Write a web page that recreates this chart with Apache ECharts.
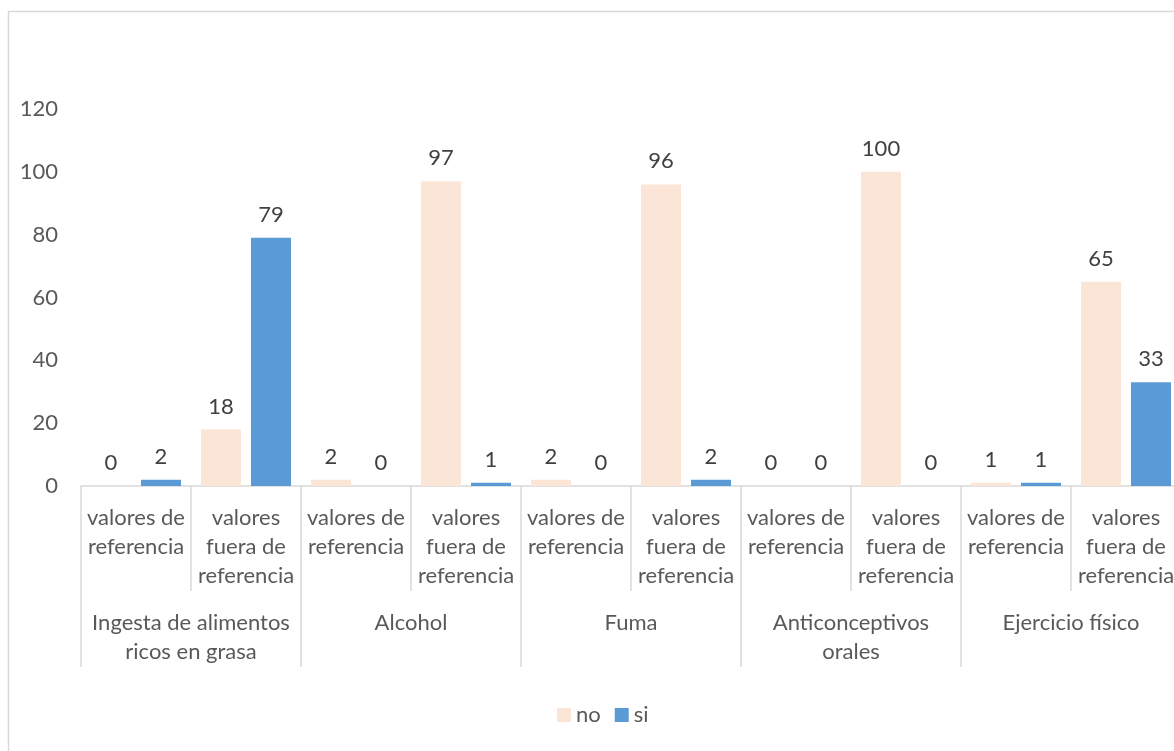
<!DOCTYPE html>
<html>
<head>
<meta charset="utf-8">
<script src="https://cdn.jsdelivr.net/npm/echarts@6/dist/echarts.min.js"></script>
<style>
  html, body { margin: 0; padding: 0; background: #ffffff; overflow: hidden; }
  /* the drawing is a bit wider than the window; its right edge is cut off */
  #chart { width: 1181px; height: 751px; }
</style>
</head>
<body>
<div id="chart"></div>
<script>
// Group (outer) categories of the two-level axis
const groupLabels = [
  'Ingesta de alimentos\nricos en grasa',
  'Alcohol',
  'Fuma',
  'Anticonceptivos\norales',
  'Ejercicio físico'
];
// Sub-categories, two per group
const subLabels = [
  'valores de\nreferencia', 'valores\nfuera de\nreferencia',
  'valores de\nreferencia', 'valores\nfuera de\nreferencia',
  'valores de\nreferencia', 'valores\nfuera de\nreferencia',
  'valores de\nreferencia', 'valores\nfuera de\nreferencia',
  'valores de\nreferencia', 'valores\nfuera de\nreferencia'
];
const seriesNames = ['no', 'si'];
const noValues = [0, 18, 2, 97, 2, 96, 0, 100, 1, 65];
const siValues = [2, 79, 0, 1, 0, 2, 0, 0, 1, 33];
const yTicks = { min: 0, max: 120, interval: 20 };

const FONT = 'Lato, "Liberation Sans", sans-serif';
const FS = 22;
const TEXT = '#595959';
const LINE = '#D9D9D9';

const chart = echarts.init(document.getElementById('chart'), null, { renderer: 'canvas' });

const labelStyle = {
  show: true,
  position: 'top',
  distance: 12,
  fontSize: FS,
  fontFamily: FONT,
  color: '#404040'
};

chart.setOption({
  backgroundColor: '#ffffff',
  animation: false,
  textStyle: { fontFamily: FONT },
  graphic: [{
    type: 'rect',
    shape: { x: 8.5, y: 11.5, width: 1300, height: 900 },
    style: { fill: 'none', stroke: LINE, lineWidth: 1.5 },
    silent: true
  }],
  legend: {
    data: seriesNames,
    bottom: 20,
    left: 552,
    icon: 'rect',
    itemWidth: 14,
    itemHeight: 14,
    itemGap: 14,
    textStyle: { fontSize: FS, color: TEXT, fontFamily: FONT }
  },
  grid: { left: 81, right: 0, top: 109, bottom: 265, containLabel: false },
  xAxis: [{
    type: 'category',
    data: subLabels,
    position: 'bottom',
    axisLine: { show: true, lineStyle: { color: LINE, width: 1.5 } },
    axisTick: { show: true, length: 105, interval: 0, lineStyle: { color: LINE, width: 1.5 } },
    axisLabel: {
      interval: 0,
      margin: 17,
      fontSize: FS,
      lineHeight: 29,
      color: TEXT,
      fontFamily: FONT,
      align: 'center'
    },
    splitLine: { show: false }
  }, {
    type: 'category',
    data: groupLabels,
    position: 'bottom',
    axisLine: { show: false },
    axisTick: { show: true, length: 181, interval: 0, lineStyle: { color: LINE, width: 1.5 } },
    axisLabel: {
      interval: 0,
      margin: 122,
      fontSize: FS,
      lineHeight: 29,
      color: TEXT,
      fontFamily: FONT
    },
    splitLine: { show: false }
  }],
  yAxis: {
    type: 'value',
    min: yTicks.min,
    max: yTicks.max,
    interval: yTicks.interval,
    axisLine: { show: false },
    axisTick: { show: false },
    splitLine: { show: false },
    axisLabel: { fontSize: FS, color: TEXT, margin: 23, fontFamily: FONT }
  },
  series: [{
    name: seriesNames[0],
    type: 'bar',
    xAxisIndex: 0,
    data: noValues,
    barWidth: 40,
    barGap: '25%',
    itemStyle: { color: '#FBE5D6' },
    label: labelStyle
  }, {
    name: seriesNames[1],
    type: 'bar',
    xAxisIndex: 0,
    data: siValues,
    barWidth: 40,
    barGap: '25%',
    itemStyle: { color: '#5B9BD5' },
    label: labelStyle
  }]
});
</script>
</body>
</html>
